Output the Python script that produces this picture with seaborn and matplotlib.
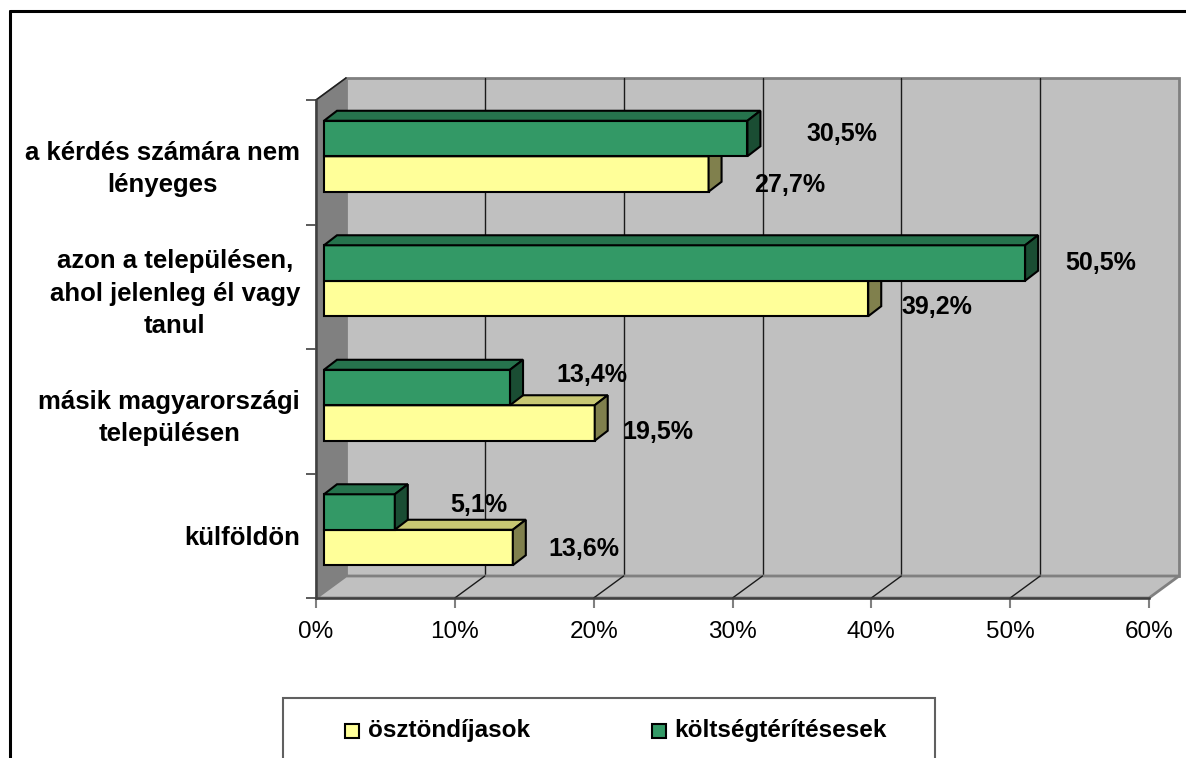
import numpy as np
import pandas as pd
import matplotlib
matplotlib.use("Agg")
import matplotlib.pyplot as plt
from matplotlib.patches import Polygon, Rectangle
from matplotlib.lines import Line2D
import seaborn as sns

# ---------------- data ----------------
categories = ['a kérdés számára nem\nlényeges',
              'azon a településen,\nahol jelenleg él vagy\ntanul',
              'másik magyarországi\ntelepülésen',
              'külföldön']
series_names = ['ösztöndíjasok', 'költségtérítésesek']
osztondijasok = [27.7, 39.2, 19.5, 13.6]
koltsegteritesesek = [30.5, 50.5, 13.4, 5.1]
xticks = [0, 10, 20, 30, 40, 50, 60]
xtick_labels = ['0%', '10%', '20%', '30%', '40%', '50%', '60%']

# label placement offsets (in % and category units)
lab_dx_yellow = [6.4, 5.5, 5.1, 5.7]
lab_dy_yellow = [0.18, 0.16, 0.17, 0.11]
lab_dx_green = [7.4, 6.0, 6.5, 6.6]
lab_dy_green = [-0.23, -0.19, -0.29, -0.25]

df = pd.DataFrame({
    'kategoria': categories * 2,
    'csoport': [series_names[0]] * 4 + [series_names[1]] * 4,
    'ertek': osztondijasok + koltsegteritesesek,
})

W, H = 1186, 758
sns.set_theme(style='white')
plt.rcParams['font.family'] = ['Liberation Sans', 'DejaVu Sans']
plt.rcParams['text.color'] = 'black'
plt.rcParams['xtick.labelcolor'] = 'black'
plt.rcParams['ytick.labelcolor'] = 'black'

fig = plt.figure(figsize=(W / 100, H / 100), dpi=100)
ax = fig.add_axes([316 / W, 1 - 598 / H, 833 / W, 498 / H])
ax.set_facecolor('none')

YELLOW = '#FFFF99'
GREEN = '#339966'
face_cols = {series_names[0]: YELLOW, series_names[1]: GREEN}
top_cols = {series_names[0]: '#C8C873', series_names[1]: '#26734D'}
side_cols = {series_names[0]: '#80804D', series_names[1]: '#1A4D33'}

hue_order = [series_names[1], series_names[0]]
sns.barplot(data=df, y='kategoria', x='ertek', hue='csoport', hue_order=hue_order,
            palette=face_cols, saturation=1, orient='h', width=0.57, errorbar=None,
            edgecolor='black', linewidth=1.5, legend=False, ax=ax)

ax.set_xlim(0, 60)
ax.set_ylim(3.5, -0.5)

# 3D geometry (data units)
DX = 30 * 60 / 833
DY = -22 * 4 / 498
BX = 8 * 60 / 833
BY = -6 * 4 / 498
DBX = 13 * 60 / 833
DBY = -10 * 4 / 498

# walls
ax.add_patch(Rectangle((DX, -0.5 + DY), 60, 4, fc='#C0C0C0', ec='#808080', lw=2,
                       clip_on=False, zorder=0.5))
for v in xticks[1:-1]:
    ax.add_line(Line2D([v + DX, v + DX], [-0.5 + DY, 3.5 + DY], color='#1a1a1a',
                       lw=1.0, clip_on=False, zorder=0.6))
ax.add_patch(Polygon([(0, -0.5), (DX, -0.5 + DY), (DX, 3.5 + DY), (0, 3.5)],
                     closed=True, fc='#808080', ec='#808080', lw=1, clip_on=False, zorder=0.7))
ax.add_line(Line2D([0, DX], [-0.5, -0.5 + DY], color='#202020', lw=1.2,
                   clip_on=False, zorder=0.75))
ax.add_patch(Polygon([(0, 3.5), (DX, 3.5 + DY), (60 + DX, 3.5 + DY), (60, 3.5)],
                     closed=True, fc='#C0C0C0', ec='#808080', lw=2, clip_on=False, zorder=0.7))
for v in xticks[1:-1]:
    ax.add_line(Line2D([v + DX, v], [3.5 + DY, 3.5], color='#1a1a1a',
                       lw=1.0, clip_on=False, zorder=0.8))

# bars: shift and add 3D faces
for ci, cont in enumerate(ax.containers):
    name = hue_order[ci]
    z = 4 if name == series_names[1] else 3
    for rect in cont:
        rect.set_x(rect.get_x() + BX)
        rect.set_y(rect.get_y() + BY)
        rect.set_zorder(z)
        rect.set_joinstyle('miter')
        x0 = rect.get_x()
        x1 = x0 + rect.get_width()
        y0 = rect.get_y()
        y1 = y0 + rect.get_height()
        top = Polygon([(x0, y0), (x0 + DBX, y0 + DBY), (x1 + DBX, y0 + DBY), (x1, y0)],
                      closed=True, fc=top_cols[name], ec='black', lw=1.5,
                      joinstyle='miter', clip_on=False, zorder=z)
        side = Polygon([(x1, y0), (x1 + DBX, y0 + DBY), (x1 + DBX, y1 + DBY), (x1, y1)],
                       closed=True, fc=side_cols[name], ec='black', lw=1.5,
                       joinstyle='miter', clip_on=False, zorder=z)
        ax.add_patch(top)
        ax.add_patch(side)

# data labels
def fmt(v):
    return f"{v:.1f}".replace('.', ',') + '%'

for i in range(len(categories)):
    ax.text(osztondijasok[i] + lab_dx_yellow[i], i + lab_dy_yellow[i], fmt(osztondijasok[i]),
            ha='center', va='center', fontsize=18, fontweight='bold', color='black',
            zorder=6, clip_on=False)
    ax.text(koltsegteritesesek[i] + lab_dx_green[i], i + lab_dy_green[i], fmt(koltsegteritesesek[i]),
            ha='center', va='center', fontsize=18, fontweight='bold', color='black',
            zorder=6, clip_on=False)

# axes / ticks
for s in ['top', 'right']:
    ax.spines[s].set_visible(False)
for s in ['left', 'bottom']:
    ax.spines[s].set_color('#404040')
    ax.spines[s].set_linewidth(1.8)
    ax.spines[s].set_zorder(2)

ax.set_xticks(xticks)
ax.set_xticklabels(xtick_labels)
ax.tick_params(axis='x', bottom=True, length=7.2, width=1.5, color='#808080', pad=9.5,
               labelsize=17.5, labelcolor='black')
ax.set_yticks(range(len(categories)))
ax.set_yticklabels(categories, fontsize=18.5, fontweight='bold', multialignment='center',
                   linespacing=1.45, color='black')
ax.set_yticks([-0.5, 0.5, 1.5, 2.5, 3.5], minor=True)
ax.tick_params(axis='y', which='major', left=False, length=0, pad=11.5)
ax.tick_params(axis='y', which='minor', left=True, length=7.2, width=1.2, color='#404040')
ax.set_xlabel('')
ax.set_ylabel('')
ax.grid(False)

# outer chart border (left & top)
fig.add_artist(Line2D([10 / W, 10 / W], [1 - 11 / H, -0.1], color='black', lw=2.2,
                      transform=fig.transFigure))
fig.add_artist(Line2D([10 / W, 1.1], [1 - 11 / H, 1 - 11 / H], color='black', lw=2.2,
                      transform=fig.transFigure))

# legend box
fig.add_artist(Rectangle((283 / W, -0.1), (935 - 283) / W, 0.1 + (758 - 698) / H,
                         transform=fig.transFigure, fc='white', ec='#606060', lw=1.5))
leg_y = 1 - 731 / H
for cx, col, name, tx in [(352, YELLOW, series_names[0], 368), (659, GREEN, series_names[1], 674)]:
    fig.add_artist(Rectangle(((cx - 7) / W, leg_y - 7 / H), 14 / W, 14 / H,
                             transform=fig.transFigure, fc=col, ec='black', lw=1.5))
    fig.text(tx / W, leg_y, name, ha='left', va='center', fontsize=17.5, fontweight='bold',
             color='black')

fig.savefig('out.png', dpi=100)
